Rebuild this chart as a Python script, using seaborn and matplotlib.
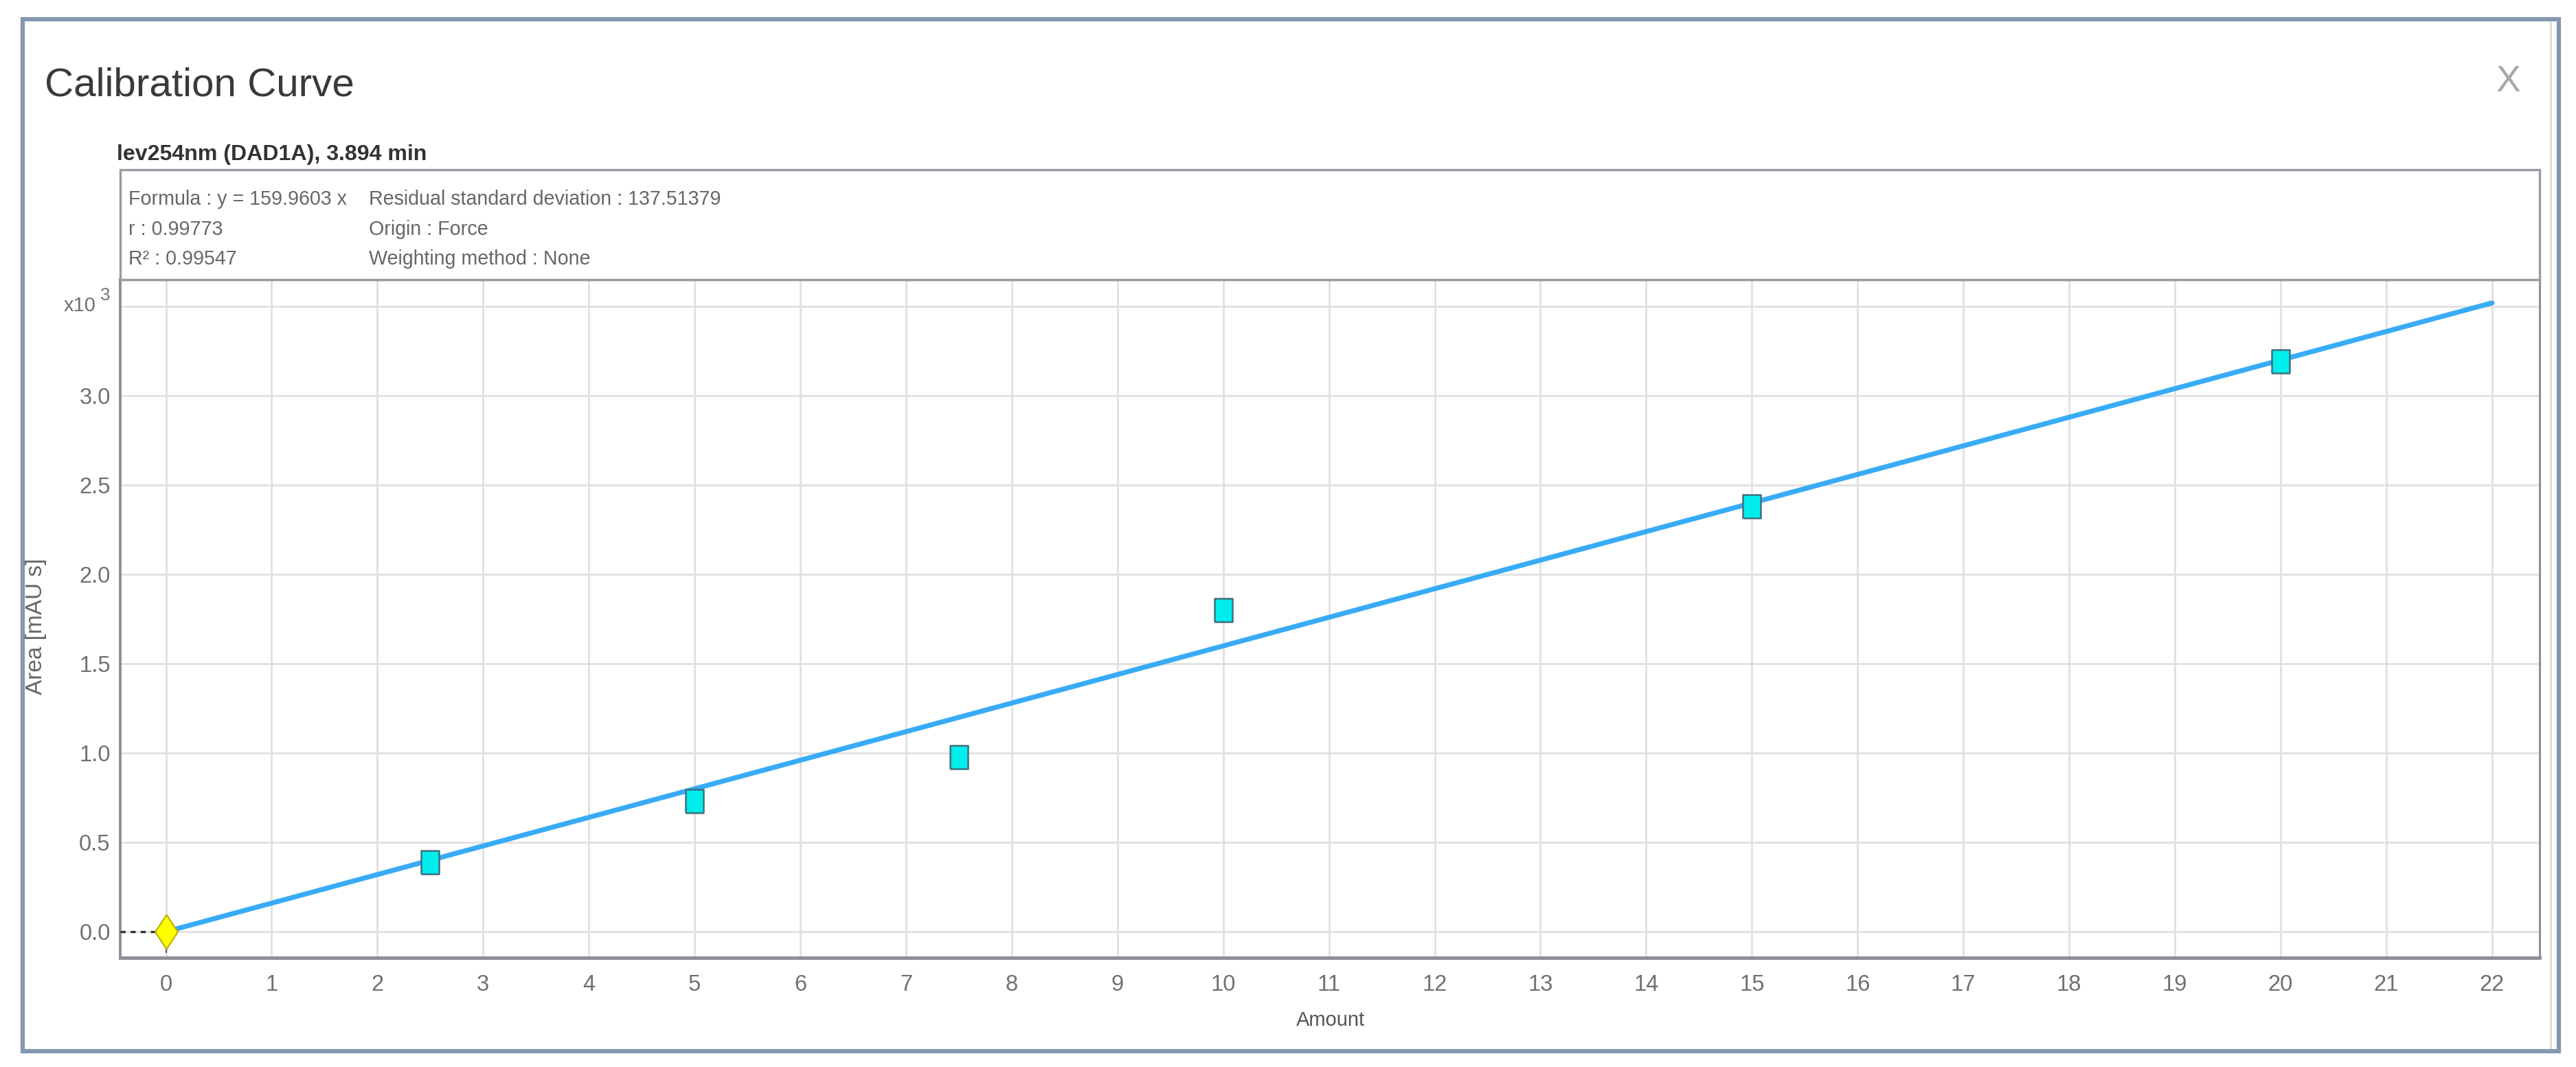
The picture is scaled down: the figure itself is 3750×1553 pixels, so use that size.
import matplotlib
matplotlib.use("Agg")
import matplotlib.pyplot as plt
import matplotlib.font_manager as fm
from matplotlib.patches import Rectangle
from matplotlib.lines import Line2D
from matplotlib.ticker import FixedLocator, FixedFormatter
import seaborn as sns
import numpy as np

# ---------------- data ----------------
amount = [0, 2.5, 5, 7.5, 10, 15, 20]
area = [0, 390, 730, 978, 1800, 2382, 3193]
slope = 159.9603
line_x = [0, 22]
x_ticks = list(range(0, 23))
y_ticks = [0, 500, 1000, 1500, 2000, 2500, 3000, 3500]
y_tick_labels = ["0.0", "0.5", "1.0", "1.5", "2.0", "2.5", "3.0", ""]

title = "Calibration Curve"
subtitle = "lev254nm (DAD1A), 3.894 min"
info_left = ["Formula : y = 159.9603 x", "r : 0.99773", "R\u00b2 : 0.99547"]
info_right = ["Residual standard deviation : 137.51379", "Origin : Force", "Weighting method : None"]
x_label = "Amount"
y_label = "Area [mAU s]"

# ---------------- fonts ----------------
names = {f.name for f in fm.fontManager.ttflist}
if "Liberation Sans Narrow" in names:
    NARROW, NS = "Liberation Sans Narrow", 1.0
elif "Liberation Sans" in names:
    NARROW, NS = "Liberation Sans", 0.84
else:
    NARROW, NS = "DejaVu Sans", 0.78
REG = "Liberation Sans" if "Liberation Sans" in names else "DejaVu Sans"

sns.set_theme(style="white")
plt.rcParams["font.family"] = [NARROW, "DejaVu Sans"]

W, H = 3750, 1553
DPI = 100
fig = plt.figure(figsize=(W / DPI, H / DPI), dpi=DPI, facecolor="white")

def fx(px):
    return px / W

def fy(py):
    return 1 - py / H

# axes placement
ax_l, ax_r, ax_t, ax_b = 174.6, 3697, 406.6, 1394.3
ax = fig.add_axes([fx(ax_l), fy(ax_b), fx(ax_r - ax_l), (ax_b - ax_t) / H])
ax.set_facecolor("white")

# line (calibration fit)
line_y = [slope * v for v in line_x]
sns.lineplot(x=line_x, y=line_y, ax=ax, color="#38abf7", linewidth=5.2, zorder=3)

# markers
rect_verts = [(-0.37, -0.5), (0.37, -0.5), (0.37, 0.5), (-0.37, 0.5), (-0.37, -0.5)]
diamond_verts = [(0, 0.5), (0.33, 0), (0, -0.5), (-0.33, 0), (0, 0.5)]
sns.scatterplot(x=amount[1:], y=area[1:], ax=ax, marker=rect_verts, s=25 ** 2,
                color="#00eded", edgecolor="#3f6f7d", linewidth=1.8, zorder=4)
sns.scatterplot(x=amount[:1], y=area[:1], ax=ax, marker=diamond_verts, s=36 ** 2,
                color="#ffff00", edgecolor="#b8ad00", linewidth=1.5, zorder=5)

ax.set_xlim(-0.435, 22.45)
ax.set_ylim(-147, 3651)

# dashed zero segment from left edge to origin
ax.hlines(area[0], ax.get_xlim()[0], amount[0], colors="#333333", linestyles=(0, (2.2, 2.2)),
          linewidth=2.4, zorder=3)
# small stem below the origin marker
ax.vlines(amount[0], ax.get_ylim()[0] * 0.8, area[0], colors="#5a5a80", linewidth=1.6, zorder=4)

# grid
ax.xaxis.set_major_locator(FixedLocator(x_ticks))
ax.yaxis.set_major_locator(FixedLocator(y_ticks))
ax.yaxis.set_major_formatter(FixedFormatter(y_tick_labels))
ax.set_xticklabels([str(t) for t in x_ticks])
ax.grid(True, color="#e0e0e0", linewidth=2.0, zorder=0)
ax.set_axisbelow(True)

ax.tick_params(axis="both", length=0, colors="#707070", labelcolor="#707070")
ax.tick_params(axis="x", labelsize=28 * NS, pad=17)
ax.tick_params(axis="y", labelsize=28 * NS, pad=10)
for lab in ax.get_xticklabels() + ax.get_yticklabels():
    lab.set_family([NARROW, "DejaVu Sans"])

for side, lw in (("bottom", 3.6), ("left", 2.8), ("top", 3.0), ("right", 2.2)):
    ax.spines[side].set_visible(True)
    ax.spines[side].set_color("#8e8e96")
    ax.spines[side].set_linewidth(lw)

ax.set_xlabel("")
ax.set_ylabel("")

# axis labels
fig.text(fx(1937), fy(1493), x_label, ha="center", va="baseline",
         fontsize=25 * NS, color="#555555", family=[NARROW, "DejaVu Sans"])
fig.text(fx(52), fy(912), y_label, ha="center", va="center", rotation=90,
         fontsize=24, color="#666666", family=[REG, "DejaVu Sans"])

# x10^3 multiplier
fig.text(fx(140), fy(453), "x10", ha="right", va="baseline",
         fontsize=25 * NS, color="#707070", family=[NARROW, "DejaVu Sans"])
fig.text(fx(146), fy(437), "3", ha="left", va="baseline",
         fontsize=22 * NS, color="#707070", family=[NARROW, "DejaVu Sans"])

# info box
fig.add_artist(Rectangle((fx(ax_l), fy(ax_t)), fx(ax_r - ax_l), (ax_t - 247) / H,
                         transform=fig.transFigure, facecolor="white",
                         edgecolor="#9a9aa2", linewidth=2.4, zorder=1))
for i, (lt, rt) in enumerate(zip(info_left, info_right)):
    base = 298 + i * 43.5
    fig.text(fx(187), fy(base), lt, ha="left", va="baseline", fontsize=24.5 * NS,
             color="#666666", family=[NARROW, "DejaVu Sans"], zorder=2)
    fig.text(fx(537), fy(base), rt, ha="left", va="baseline", fontsize=24.5 * NS,
             color="#666666", family=[NARROW, "DejaVu Sans"], zorder=2)

# subtitle and title
fig.text(fx(170), fy(233), subtitle, ha="left", va="baseline", fontsize=27.5 * NS,
         fontweight="bold", color="#333333", family=[NARROW, "DejaVu Sans"])
fig.text(fx(65), fy(140), title, ha="left", va="baseline", fontsize=50 * NS,
         color="#3a3a3a", family=[NARROW, "DejaVu Sans"])
fig.text(fx(3652), fy(119), "X", ha="center", va="center", fontsize=46 * NS,
         color="#a8a8a8", family=[NARROW, "DejaVu Sans"])

# window frame
fig.add_artist(Line2D([fx(3713), fx(3713)], [fy(32), fy(1527)], transform=fig.transFigure,
                      color="#dadada", linewidth=2.0))
fig.add_artist(Rectangle((fx(33), fy(1530)), fx(3725 - 33), (1530 - 28) / H,
                         transform=fig.transFigure, facecolor="none",
                         edgecolor="#8497b0", linewidth=4.5, zorder=10))

fig.savefig("out.png", dpi=DPI, facecolor="white")
